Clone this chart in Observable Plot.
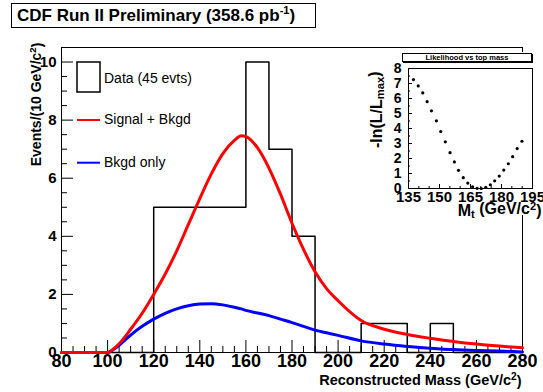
<!DOCTYPE html>
<html><head><meta charset="utf-8">
<script src="https://cdn.jsdelivr.net/npm/d3@7"></script>
<script src="https://cdn.jsdelivr.net/npm/@observablehq/plot@0.6"></script>
<style>
body{margin:0;background:#fff;}
#wrap{position:relative;width:543px;height:392px;overflow:hidden;font-family:"Liberation Sans",Arial,Helvetica,sans-serif;}
#wrap > *{position:absolute;}
#title{left:11px;top:3px;width:305px;height:25px;border:1px solid #000;background:#fff;box-sizing:border-box;font-weight:bold;font-size:17px;line-height:23px;padding-left:5px;white-space:nowrap;}
#title sup{font-size:11px;vertical-align:7px;line-height:0;}
#pad{left:365px;top:52px;width:178px;height:163px;background:#fff;}
#ititle{left:402px;top:53px;width:130px;height:9px;border:1px solid #000;background:#fff;box-sizing:border-box;box-shadow:1px 1px 0 #000;font-weight:bold;font-size:7.5px;line-height:7px;text-align:center;white-space:nowrap;}
</style></head><body><div id="wrap"></div>
<script>
// ---------- data ----------
const binEdges = [80,90,100,110,120,130,140,150,160,170,180,190,200,210,220,230,240,250,260,270,280];
const binCounts = [0,0,0,0,5,5,5,5,10,7,4,0,0,1,1,0,1,0,0,0,0];

const curveMass = [80,90,100,102.5,105,110,115,120,125,130,135,140,145,150,155,158,160,165,170,175,180,185,190,195,200,210,220,230,240,250,260,270,280];
const sigBkg   = [0,0,0,0.12,0.3,0.8,1.35,2.0,2.7,3.5,4.4,5.3,6.15,6.85,7.3,7.46,7.43,7.05,6.35,5.45,4.45,3.55,2.78,2.2,1.78,1.1,0.8,0.62,0.49,0.38,0.29,0.22,0.16];
const bkgOnly  = [0,0,0,0.1,0.25,0.6,0.9,1.15,1.35,1.5,1.61,1.67,1.68,1.64,1.56,1.5,1.45,1.36,1.27,1.15,1.03,0.9,0.77,0.68,0.59,0.4,0.29,0.21,0.15,0.1,0.07,0.05,0.02];

const likMass = [137.4,139.7,141.9,144.0,146.1,148.5,150.6,152.8,155.1,157.2,159.2,161.5,163.7,166.0,168.2,170.2,172.4,174.6,176.7,178.9,181.1,183.3,185.4,187.6,189.9];
const likVal  = [7.26,6.84,6.37,5.79,5.18,4.51,3.80,3.11,2.39,1.77,1.21,0.72,0.36,0.11,0.01,0.0,0.07,0.25,0.51,0.83,1.23,1.65,2.12,2.66,3.15];

const xTickLabels = [80,100,120,140,160,180,200,220,240,260,280];
const xMinorTicks = d3.range(80, 281, 5);
const yTickLabels = [0,2,4,6,8,10];
const yMinorTicks = d3.range(0, 10.51, 0.5);
const insetXLabels = [135,150,165,180,195];
const insetXMinor = d3.range(135, 196, 5);
const insetYLabels = [0,1,2,3,4,5,6,7,8];
const insetYMinor = d3.range(0, 8.01, 0.5);

const legendLabels = ["Data (45 evts)", "Signal + Bkgd", "Bkgd only"];
const legendColors = ["black", "#ff0000", "#0000ff"];

const titleText = "CDF Run II Preliminary (358.6 pb<sup>-1</sup>)";
const insetTitle = "Likelihood vs top mass";
const yTitle = "Events/(10 GeV/c^{2})";
const xTitle = "Reconstructed Mass (GeV/c^{2})";
const insetYTitle = "-ln(L/L_{max})";
const insetXTitle = "M_{t} (GeV/c^{2})";

// ---------- build ----------
const FONT = '"Liberation Sans", Arial, Helvetica, sans-serif';
const hist = binEdges.map((x, i) => ({x, y: binCounts[i]}));
const curves = curveMass.map((m, i) => ({m, s: sigBkg[i], b: bkgOnly[i]}));
const lik = likMass.map((m, i) => ({m, v: likVal[i]}));

const W = 543, H = 392, ML = 61, MR = 21, MT = 47, MB = 40;
const FW = W - ML - MR, FH = H - MT - MB;

function legend() {
  const g = d3.create("svg:g").attr("font-family", FONT).attr("font-size", 14).attr("text-anchor", "start");
  const x0 = ML;
  g.append("rect").attr("x", x0 + 16).attr("y", MT + 15).attr("width", 23).attr("height", 30)
    .attr("fill", "none").attr("stroke", legendColors[0]).attr("stroke-width", 1.5);
  const rows = [82.5, 124, 166.5];
  const lineY = [null, 120, 162.7];
  legendLabels.forEach((t, i) => {
    if (i > 0) g.append("line").attr("x1", x0 + 16).attr("x2", x0 + 39).attr("y1", lineY[i]).attr("y2", lineY[i])
      .attr("stroke", legendColors[i]).attr("stroke-width", 2);
    g.append("text").attr("x", x0 + 43).attr("y", rows[i]).attr("fill", "black").attr("text-anchor", "start").text(t);
  });
  return g.node();
}

const main = Plot.plot({
  width: W, height: H, marginLeft: ML, marginRight: MR, marginTop: MT, marginBottom: MB,
  style: {background: "transparent", fontFamily: FONT, overflow: "visible"},
  x: {domain: [80, 280], axis: null, label: null},
  y: {domain: [0, 10.5], axis: null, label: null},
  marks: [
    Plot.frame({stroke: "black", strokeWidth: 1}),
    Plot.tickX(xMinorTicks.filter(d => d % 20 !== 0), {x: d => d, insetTop: FH - 6, stroke: "black"}),
    Plot.tickX(xTickLabels, {x: d => d, insetTop: FH - 12, stroke: "black"}),
    Plot.tickY(yMinorTicks.filter(d => d % 2 !== 0), {y: d => d, insetRight: FW - 6, stroke: "black"}),
    Plot.tickY(yTickLabels, {y: d => d, insetRight: FW - 12, stroke: "black"}),
    Plot.line(hist, {x: "x", y: "y", curve: "step-after", stroke: "black", strokeWidth: 1.5}),
    Plot.line(curves, {x: "m", y: "b", curve: "monotone-x", stroke: "#0000ff", strokeWidth: 3}),
    Plot.line(curves, {x: "m", y: "s", curve: "monotone-x", stroke: "#ff0000", strokeWidth: 3}),
    Plot.axisX({ticks: xTickLabels, tickSize: 0, tickPadding: 2, fontSize: 18, fontWeight: "bold", label: null, fill: "black"}),
    Plot.axisY({ticks: yTickLabels, tickSize: 0, tickPadding: 5, fontSize: 15, fontWeight: "bold", label: null, fill: "black"}),
    Plot.text([yTitle], {text: d => d, frameAnchor: "top-left", rotate: -90, textAnchor: "end", lineAnchor: "bottom", dx: -21, dy: -5, fontSize: 14, fontWeight: "bold", fill: "black"}),
    Plot.text([xTitle], {text: d => d, frameAnchor: "bottom-right", textAnchor: "end", lineAnchor: "bottom", dx: -1, dy: 32, fontSize: 14.5, fontWeight: "bold", fill: "black"}),
    legend
  ]
});

const IW = 183, IH = 182, IML = 48, IMR = 11, IMT = 28, IMB = 34;
const IFW = IW - IML - IMR, IFH = IH - IMT - IMB;
const inset = Plot.plot({
  width: IW, height: IH, marginLeft: IML, marginRight: IMR, marginTop: IMT, marginBottom: IMB,
  style: {background: "transparent", fontFamily: FONT, overflow: "visible"},
  x: {domain: [135, 195], axis: null, label: null},
  y: {domain: [0, 8], axis: null, label: null},
  marks: [
    Plot.frame({stroke: "black", strokeWidth: 1}),
    Plot.tickX(insetXMinor.filter(d => (d - 135) % 15 !== 0), {x: d => d, insetTop: IFH - 2, stroke: "black"}),
    Plot.tickX(insetXLabels, {x: d => d, insetTop: IFH - 4, stroke: "black"}),
    Plot.tickY(insetYMinor.filter(d => d % 1 !== 0), {y: d => d, insetRight: IFW - 2, stroke: "black"}),
    Plot.tickY(insetYLabels, {y: d => d, insetRight: IFW - 4, stroke: "black"}),
    Plot.dot(lik, {x: "m", y: "v", r: 1.6, fill: "black", stroke: "none"}),
    Plot.axisX({ticks: insetXLabels, tickSize: 0, tickPadding: 3, fontSize: 15, fontWeight: "bold", label: null, fill: "black"}),
    Plot.axisY({ticks: insetYLabels, tickSize: 0, tickPadding: 7, fontSize: 14, fontWeight: "bold", label: null, fill: "black"}),
    Plot.text([insetYTitle], {text: d => d, frameAnchor: "top-left", rotate: -90, textAnchor: "end", lineAnchor: "bottom", dx: -27, dy: 3, fontSize: 16, fontWeight: "bold", fill: "black"}),
    Plot.text([insetXTitle], {text: d => d, frameAnchor: "bottom-right", textAnchor: "end", lineAnchor: "bottom", dx: 9, dy: 27, fontSize: 16, fontWeight: "bold", fill: "black"})
  ]
});

const wrap = document.getElementById("wrap");
main.style.left = "0px"; main.style.top = "0px";
wrap.appendChild(main);
const pad = document.createElement("div"); pad.id = "pad"; wrap.appendChild(pad);
inset.style.left = "360px"; inset.style.top = "40px";
wrap.appendChild(inset);
const t = document.createElement("div"); t.id = "title"; t.innerHTML = titleText; wrap.appendChild(t);
const it = document.createElement("div"); it.id = "ititle"; it.textContent = insetTitle; wrap.appendChild(it);

// super/subscript markup -> tspans
function richText(svg) {
  const NS = "http://www.w3.org/2000/svg";
  svg.querySelectorAll("text").forEach(node => {
    const s = node.textContent;
    if (!/[\^_]\{/.test(s)) return;
    while (node.firstChild) node.removeChild(node.firstChild);
    const re = /([\^_])\{([^}]*)\}/g;
    let last = 0, m, shift = 0;
    const add = (str, kind) => {
      const ts = document.createElementNS(NS, "tspan");
      ts.textContent = str;
      if (kind) {
        ts.setAttribute("font-size", "70%");
        const d = kind === "^" ? -0.42 : 0.25;
        ts.setAttribute("dy", (d - shift) + "em");
        shift = d;
      } else if (shift) {
        ts.setAttribute("dy", (-shift) + "em");
        shift = 0;
      }
      node.appendChild(ts);
    };
    while ((m = re.exec(s))) {
      if (m.index > last) add(s.slice(last, m.index), null);
      add(m[2], m[1]);
      last = re.lastIndex;
    }
    if (last < s.length) add(s.slice(last), null);
  });
}
richText(main); richText(inset);
</script></body></html>
